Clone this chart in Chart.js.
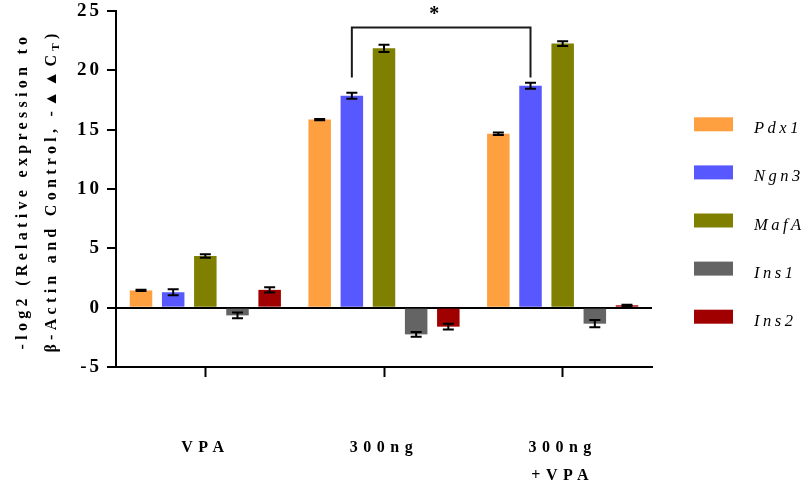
<!DOCTYPE html>
<html><head><meta charset="utf-8">
<script src="https://cdn.jsdelivr.net/npm/chart.js@4/dist/chart.umd.min.js"></script>
<style>html,body{margin:0;padding:0;background:#fff}#wrap{width:809px;height:486px;position:relative}</style>
</head><body><div id="wrap"><canvas id="c"></canvas></div>
<script>
// ---- data ----
const categories = [['VPA'], ['300ng'], ['300ng', '+VPA']];
const seriesNames = ['Pdx1', 'Ngn3', 'MafA', 'Ins1', 'Ins2'];
const pdx1 = [1.45, 15.85, 14.65];
const pdx1Err = [0.05, 0.05, 0.1];
const ngn3 = [1.3, 17.85, 18.7];
const ngn3Err = [0.25, 0.25, 0.25];
const mafA = [4.35, 21.85, 22.25];
const mafAErr = [0.15, 0.3, 0.2];
const ins1 = [-0.65, -2.25, -1.35];
const ins1Err = [0.25, 0.2, 0.3];
const ins2 = [1.5, -1.6, 0.2];
const ins2Err = [0.22, 0.25, 0.05];
const yTickValues = [-5, 0, 5, 10, 15, 20, 25];
const yTitleLine1 = '-log2 (Relative expression to';
const yTitleLine2 = ['β-Actin and Control, -▲▲C', 'T', ')'];
const sigFrom = 1, sigTo = 2, sigSeries = 1;   // Ngn3: 300ng vs 300ng+VPA
const sigTop = 23.6, sigLegEnd = 19.4, sigStarAt = 24.75, sigLabel = '*';

const values = [pdx1, ngn3, mafA, ins1, ins2];
const errors = [pdx1Err, ngn3Err, mafAErr, ins1Err, ins2Err];
const colors = ['#FFA040', '#5858FF', '#808000', '#646464', '#A00000'];
const SERIF = '"Liberation Serif", "Times New Roman", serif';

function wrapLabels(scale, spacing) {
  if (scale._wrapped) return;
  const orig = scale.drawLabels.bind(scale);
  scale.drawLabels = function (area) {
    const ctx = this.ctx, prev = ctx.letterSpacing;
    ctx.letterSpacing = spacing;
    orig(area);
    ctx.letterSpacing = prev;
  };
  scale._wrapped = true;
}

const spacingPlugin = {
  id: 'spacing',
  beforeUpdate(chart) { chart.ctx.letterSpacing = '3px'; },
  afterUpdate(chart) {
    wrapLabels(chart.scales.x, '5.5px');
    wrapLabels(chart.scales.y, '3px');
  },
  beforeDraw(chart) { chart.ctx.letterSpacing = '3px'; }
};

const errorBarPlugin = {
  id: 'errorBars',
  afterDatasetsDraw(chart) {
    const ctx = chart.ctx, y = chart.scales.y;
    ctx.save();
    ctx.strokeStyle = '#000'; ctx.lineWidth = 2;
    chart.data.datasets.forEach((ds, di) => {
      const meta = chart.getDatasetMeta(di);
      meta.data.forEach((bar, i) => {
        const v = ds.data[i], e = ds.errs[i];
        const yt = y.getPixelForValue(v + e), yb = y.getPixelForValue(v - e);
        const cw = 5.5;
        ctx.beginPath();
        ctx.moveTo(bar.x, yt); ctx.lineTo(bar.x, yb);
        ctx.moveTo(bar.x - cw, yt); ctx.lineTo(bar.x + cw, yt);
        ctx.moveTo(bar.x - cw, yb); ctx.lineTo(bar.x + cw, yb);
        ctx.stroke();
      });
    });
    ctx.restore();
  }
};

const bracketPlugin = {
  id: 'bracket',
  afterDatasetsDraw(chart) {
    const ctx = chart.ctx, y = chart.scales.y;
    const meta = chart.getDatasetMeta(sigSeries);
    const x1 = meta.data[sigFrom].x, x2 = meta.data[sigTo].x;
    const yh = y.getPixelForValue(sigTop), yl = y.getPixelForValue(sigLegEnd);
    ctx.save();
    ctx.strokeStyle = '#1a1a1a'; ctx.lineWidth = 2;
    ctx.beginPath();
    ctx.moveTo(x1, yl); ctx.lineTo(x1, yh); ctx.lineTo(x2, yh); ctx.lineTo(x2, yl);
    ctx.stroke();
    ctx.fillStyle = '#000';
    ctx.letterSpacing = '0px';
    ctx.font = 'bold 20px ' + SERIF;
    ctx.textAlign = 'center'; ctx.textBaseline = 'middle';
    ctx.fillText(sigLabel, (x1 + x2) / 2 - 7, y.getPixelForValue(sigStarAt) + 1);
    ctx.restore();
  }
};

const legendPlugin = {
  id: 'sideLegend',
  afterDraw(chart) {
    const ctx = chart.ctx;
    ctx.save();
    chart.data.datasets.forEach((ds, i) => {
      const cy = 124.3 + i * 48.1;
      ctx.fillStyle = ds.backgroundColor;
      ctx.fillRect(694, cy - 7, 39, 14);
      ctx.fillStyle = '#000';
      ctx.font = 'italic 16.5px ' + SERIF;
      ctx.letterSpacing = '3.5px';
      ctx.textAlign = 'left'; ctx.textBaseline = 'alphabetic';
      ctx.fillText(ds.label, 754, cy + 9);
    });
    ctx.restore();
  }
};

const yTitlePlugin = {
  id: 'yTitle',
  afterDraw(chart) {
    const ctx = chart.ctx, a = chart.chartArea;
    const cy = (a.top + a.bottom) / 2 + 2;
    ctx.save();
    ctx.fillStyle = '#000';
    ctx.letterSpacing = '4.3px';
    const mainFont = 'bold 16px ' + SERIF, subFont = 'bold 11px ' + SERIF;
    ctx.font = mainFont;
    // line 1
    ctx.save();
    ctx.translate(23, cy); ctx.rotate(-Math.PI / 2);
    ctx.textAlign = 'center'; ctx.textBaseline = 'middle';
    ctx.fillText(yTitleLine1, 0, 0);
    ctx.restore();
    // line 2 with subscript
    ctx.save();
    ctx.translate(52, cy); ctx.rotate(-Math.PI / 2);
    ctx.textAlign = 'left'; ctx.textBaseline = 'middle';
    ctx.font = mainFont; const w0 = ctx.measureText(yTitleLine2[0]).width;
    ctx.font = subFont; const w1 = ctx.measureText(yTitleLine2[1]).width;
    ctx.font = mainFont; const w2 = ctx.measureText(yTitleLine2[2]).width;
    let x = -(w0 + w1 + w2) / 2;
    ctx.font = mainFont; ctx.fillText(yTitleLine2[0], x, 0); x += w0;
    ctx.font = subFont; ctx.fillText(yTitleLine2[1], x, 4); x += w1;
    ctx.font = mainFont; ctx.fillText(yTitleLine2[2], x, 0);
    ctx.restore();
    ctx.restore();
  }
};

new Chart(document.getElementById('c'), {
  type: 'bar',
  data: {
    labels: categories,
    datasets: seriesNames.map((name, i) => ({
      label: name,
      data: values[i],
      errs: errors[i],
      backgroundColor: colors[i],
      borderWidth: 0,
      categoryPercentage: 0.9,
      barPercentage: 0.7
    }))
  },
  options: {
    responsive: true,
    maintainAspectRatio: false,
    animation: false,
    devicePixelRatio: 1,
    layout: { padding: { left: 1, right: 157, top: 0, bottom: 0 } },
    plugins: { legend: { display: false }, tooltip: { enabled: false } },
    scales: {
      x: {
        type: 'category',
        offset: true,
        grid: { display: true, drawOnChartArea: false, offset: false, tickLength: 10, tickColor: '#000', tickWidth: 2 },
        border: { display: true, color: '#000', width: 2 },
        ticks: { color: '#000', padding: 56, maxRotation: 0, autoSkip: false,
                 font: { family: SERIF, size: 16, weight: 'bold', lineHeight: 1.8 } },
        afterFit(s) { s.height = 119; }
      },
      y: {
        min: -5, max: 25,
        afterBuildTicks(s) { s.ticks = yTickValues.map(v => ({ value: v })); },
        grid: {
          color: c => (c.tick && c.tick.value === 0) ? '#000' : 'rgba(0,0,0,0)',
          lineWidth: 2, tickColor: '#000', tickLength: 9, tickWidth: 2, drawOnChartArea: true
        },
        border: { display: true, color: '#000', width: 2 },
        ticks: { color: '#000', padding: 5, font: { family: SERIF, size: 19, weight: 'bold', lineHeight: 0.63 } },
        afterFit(s) { s.width = 115; }
      }
    }
  },
  plugins: [spacingPlugin, errorBarPlugin, bracketPlugin, legendPlugin, yTitlePlugin]
});
</script></body></html>
